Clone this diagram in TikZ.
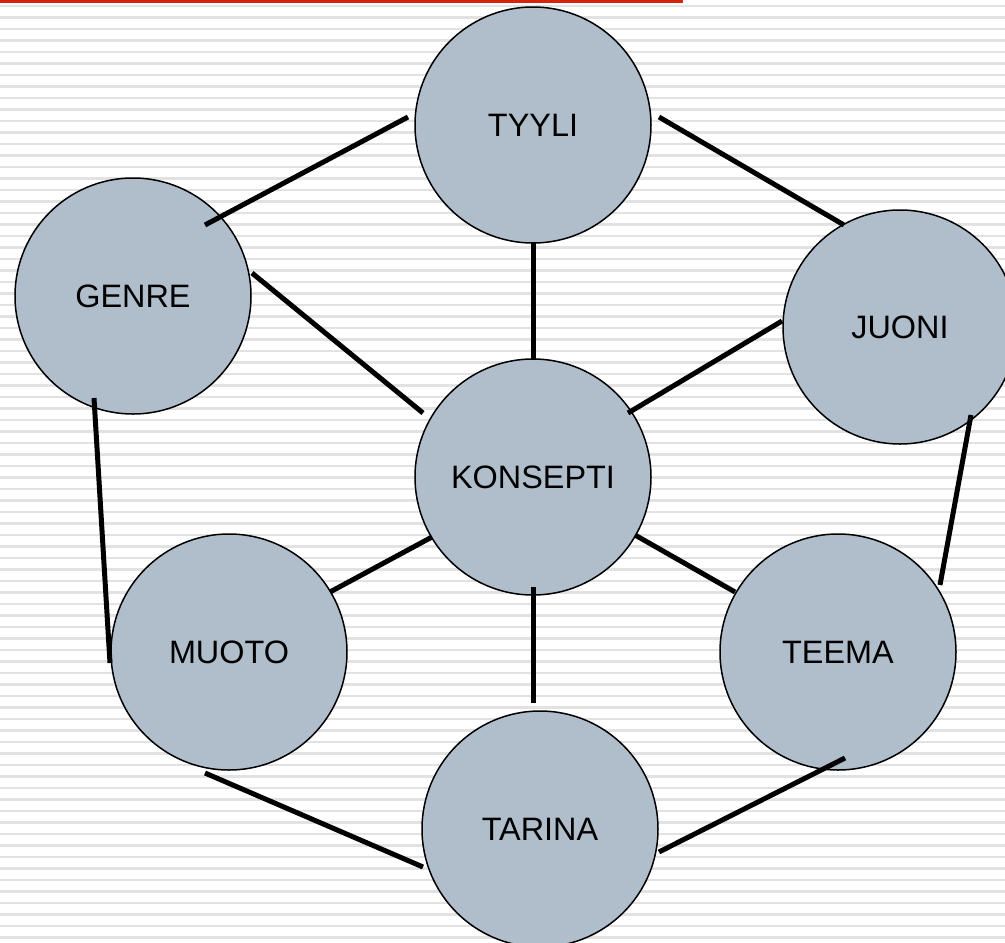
\documentclass[tikz,border=0pt]{standalone}
\usepackage{fontspec}
\setmainfont{Liberation Sans}
\definecolor{bubble}{RGB}{176,190,204}
\definecolor{stripe}{RGB}{226,226,226}
\definecolor{topred}{RGB}{214,36,10}
\tikzset{
  bub/.style={circle, draw=black, line width=1.5pt, fill=bubble, minimum size=236pt, inner sep=0pt,
              font=\fontsize{32.4}{38}\selectfont, text=black},
  link/.style={line width=5pt, black}
}
\begin{document}
\begin{tikzpicture}[x=1pt,y=-1pt]
\useasboundingbox (0,0) rectangle (1005,943);
\fill[white] (0,0) rectangle (1005,943);
\foreach \i in {0,...,81} {
  \draw[stripe, line width=2.6pt] (0,{6+11.5*\i}) -- (1005,{6+11.5*\i});
}
\fill[topred] (0,0) rectangle (683,3);

\node[bub] (tyyli) at (533,125) {TYYLI};
\node[bub] (genre) at (133,296) {GENRE};
\node[bub, minimum size=234pt] (juoni) at (900,327) {JUONI};
\node[bub] (konsepti) at (533,477) {KONSEPTI};
\node[bub] (muoto) at (229,652) {MUOTO};
\node[bub] (teema) at (838,652) {TEEMA};
\node[bub] (tarina) at (540,829) {TARINA};

\coordinate (gt1) at (205,225); \coordinate (gt2) at (408,117);
\coordinate (tj1) at (659,117); \coordinate (tj2) at (844,225);
\coordinate (tk1) at (533,242); \coordinate (tk2) at (533,360);
\coordinate (gk1) at (252,273); \coordinate (gk2) at (423,413);
\coordinate (jk1) at (782,321); \coordinate (jk2) at (628,413);
\coordinate (gm1) at (94,398);  \coordinate (gm2) at (110,663);
\coordinate (jt1) at (971,415); \coordinate (jt2) at (940,585);
\coordinate (km1) at (432,537); \coordinate (km2) at (330,592);
\coordinate (ke1) at (635,535); \coordinate (ke2) at (735,592);
\coordinate (kt1) at (533,587); \coordinate (kt2) at (533,703);
\coordinate (mt1) at (205,773); \coordinate (mt2) at (423,867);
\coordinate (et1) at (845,758); \coordinate (et2) at (659,852);

\draw[link] (gt1) -- (gt2);
\draw[link] (tj1) -- (tj2);
\draw[link] (tk1) -- (tk2);
\draw[link] (gk1) -- (gk2);
\draw[link] (jk1) -- (jk2);
\draw[link] (gm1) -- (gm2);
\draw[link] (jt1) -- (jt2);
\draw[link] (km1) -- (km2);
\draw[link] (ke1) -- (ke2);
\draw[link] (kt1) -- (kt2);
\draw[link] (mt1) -- (mt2);
\draw[link] (et1) -- (et2);
\end{tikzpicture}
\end{document}
